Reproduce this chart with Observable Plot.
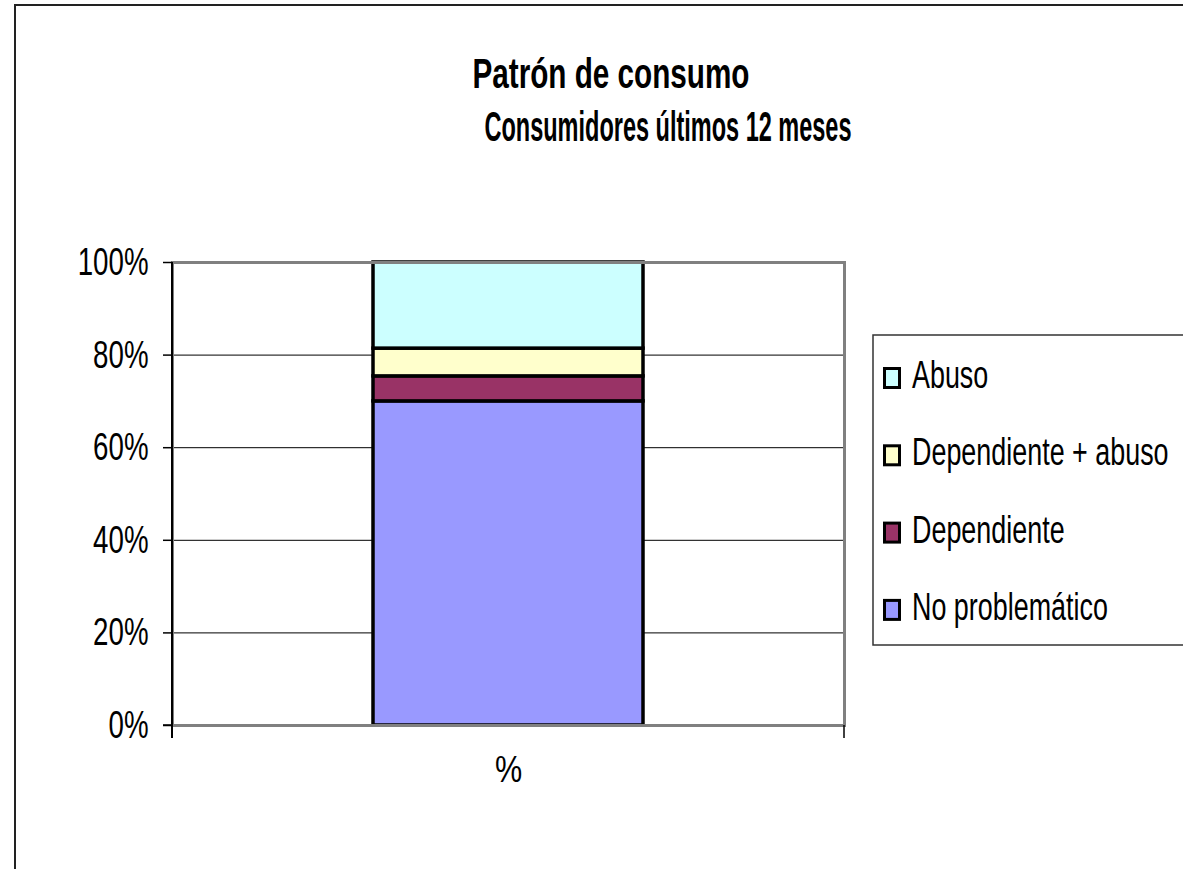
<!DOCTYPE html>
<html><head><meta charset="utf-8">
<script src="https://cdn.jsdelivr.net/npm/d3@7"></script>
<script src="https://cdn.jsdelivr.net/npm/@observablehq/plot@0.6"></script>
<style>
html,body{margin:0;padding:0;background:#fff;overflow:hidden;}
#chart{position:relative;width:1183px;height:869px;}
</style></head><body><div id="chart"></div>
<script>
// ---- data ----
const categories = ["%"];
const series = ["No problemático", "Dependiente", "Dependiente + abuso", "Abuso"];
const values = [70.0, 5.4, 6.0, 18.6];
const colors = ["#9999FF", "#993366", "#FFFFCC", "#CCFFFF"];
const yTicks = [0, 20, 40, 60, 80, 100];
const titleLines = ["Patrón de consumo", "Consumidores últimos 12 meses"];
const legendOrder = ["Abuso", "Dependiente + abuso", "Dependiente", "No problemático"];

const data = series.map((s, i) => ({cat: categories[0], serie: s, value: values[i]}));
const colorOf = Object.fromEntries(series.map((s, i) => [s, colors[i]]));

const W = 1183, H = 869;
const FONT = "'Liberation Sans', Arial, sans-serif";

// axis lines: left axis + category boundary ticks at the bottom
function axisLines(index, scales, vals, dims) {
  const g = d3.create("svg:g").attr("stroke", "#000").attr("fill", "none");
  const x0 = dims.marginLeft, x1 = dims.width - dims.marginRight;
  const yb = dims.height - dims.marginBottom, yt = dims.marginTop;
  g.append("line").attr("x1", x0).attr("x2", x0).attr("y1", yt).attr("y2", yb + 13).attr("stroke-width", 2);
  g.append("line").attr("x1", x1).attr("x2", x1).attr("y1", yb).attr("y2", yb + 13).attr("stroke-width", 1.5);
  g.append("line").attr("x1", x0 - 9).attr("x2", x0).attr("y1", yb).attr("y2", yb).attr("stroke-width", 1.5);
  return g.node();
}

const svg = Plot.plot({
  width: W, height: H,
  marginLeft: 172, marginRight: W - 844, marginTop: 262, marginBottom: H - 725,
  style: {fontFamily: FONT, fontSize: "39px", color: "#000", background: "transparent", overflow: "visible"},
  x: {domain: categories, padding: 0.4267, label: null},
  y: {domain: [0, 100], label: null},
  color: {domain: series, range: colors},
  marks: [
    Plot.gridY(yTicks.slice(1, -1), {stroke: "#000", strokeOpacity: 1, strokeWidth: 1}),
    Plot.barY(data, {x: "cat", y: "value", fill: "serie", order: series, stroke: "#000", strokeWidth: 3.5}),
    Plot.frame({stroke: "#808080", strokeWidth: 3}),
    Plot.axisY({ticks: yTicks, tickFormat: d => d + "%", tickSize: 9, tickPadding: 15, stroke: "#000", strokeWidth: 1.5, fontSize: 39, label: null}),
    Plot.axisX({tickSize: 0, tickPadding: 31, fontSize: 36, label: null}),
    axisLines
  ]
});

document.getElementById("chart").appendChild(svg);
const s = d3.select(svg);

// condense tick labels (narrow font look)
s.selectAll('g[aria-label="y-axis tick label"] text').each(function () {
  const len = this.getComputedTextLength();
  d3.select(this).attr("textLength", len * 0.71).attr("lengthAdjust", "spacingAndGlyphs");
});
s.selectAll('g[aria-label="x-axis tick label"] text').each(function () {
  const len = this.getComputedTextLength();
  d3.select(this).attr("textLength", len * 0.85).attr("lengthAdjust", "spacingAndGlyphs");
});

// outer chart border
s.append("path").attr("d", `M15,${H + 5}V5H${W + 5}`).attr("fill", "none").attr("stroke", "#222").attr("stroke-width", 2);

// title
const titleSpec = [{cx: 611, y: 88, len: 277}, {cx: 668, y: 141, len: 367}];
titleLines.forEach((t, i) => {
  s.append("text").text(t)
    .attr("x", titleSpec[i].cx).attr("y", titleSpec[i].y)
    .attr("text-anchor", "middle")
    .attr("font-family", FONT).attr("font-weight", "bold").attr("font-size", 43)
    .attr("textLength", titleSpec[i].len).attr("lengthAdjust", "spacingAndGlyphs")
    .attr("fill", "#000");
});

// legend
const lg = s.append("g").attr("text-anchor", "start");
lg.append("rect").attr("x", 873).attr("y", 335).attr("width", 311).attr("height", 310)
  .attr("fill", "#fff").attr("stroke", "#333").attr("stroke-width", 1.5);
legendOrder.forEach((name, i) => {
  const base = 388 + i * 77.3;
  lg.append("rect").attr("x", 884.5).attr("y", base - 19.5).attr("width", 15).attr("height", 19)
    .attr("fill", colorOf[name]).attr("stroke", "#000").attr("stroke-width", 3);
  lg.append("text").text(name)
    .attr("transform", `translate(912,${base}) scale(0.69,1)`)
    .attr("text-anchor", "start")
    .attr("font-family", FONT).attr("font-size", 39).attr("fill", "#000");
});
</script>
</body></html>
